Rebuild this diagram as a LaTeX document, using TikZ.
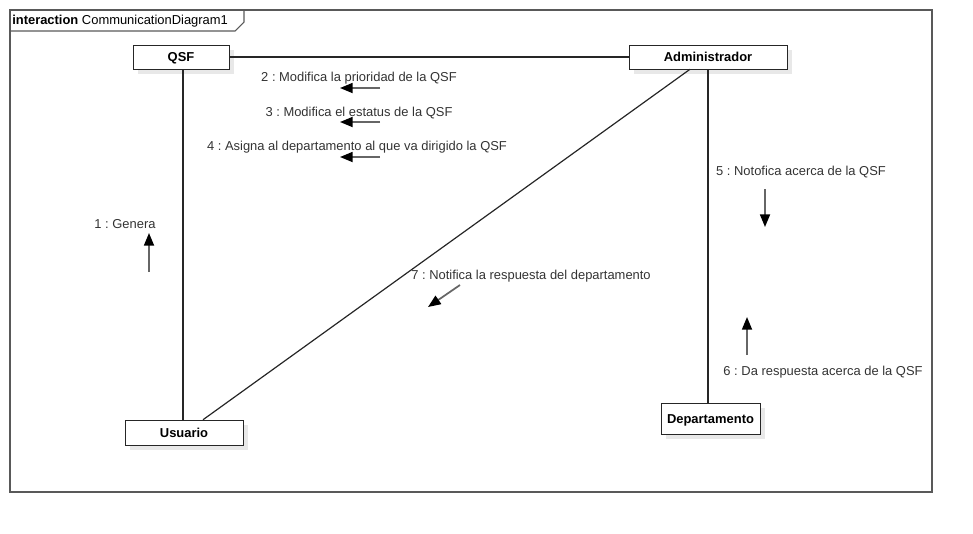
\documentclass[tikz,border=0pt]{standalone}
\usepackage{fontspec}
\setmainfont{Liberation Sans}
\usetikzlibrary{arrows.meta,shadows}

\begin{document}
\frenchspacing
\begin{tikzpicture}[
  x=0.75pt, y=-0.75pt,
  font=\fontsize{9.7}{11}\selectfont,
  obj/.style={draw=black!85, fill=white, font=\fontsize{9.7}{11}\selectfont\bfseries, inner sep=0pt,
    text height=7pt, text depth=0pt,
    general shadow={fill=black!9, shadow xshift=3.5pt, shadow yshift=-3.5pt}},
  link/.style={draw=black!85, line width=0.9pt},
  msg/.style={-{Triangle[length=9.5pt,width=7.5pt,color=black]}, draw=black!60, line width=1.3pt},
  lbl/.style={text=black!80, inner sep=1pt},
]
\useasboundingbox (0,0) rectangle (973,533);

% --- frame with name tab ---------------------------------------------------
\draw[black!65, line width=0.8pt] (10,10) rectangle (932,492);
\draw[black!65, line width=0.8pt] (10,31) -- (235,31) -- (244,22) -- (244,10);
\node[anchor=west, inner sep=0pt] (title) at (12,21) {\textbf{interaction} CommunicationDiagram1};

% --- objects ---------------------------------------------------------------
\node[obj, minimum width=72pt, minimum height=18pt] (qsf) at (181,57) {QSF};
\node[obj, minimum width=118.5pt, minimum height=18pt] (admin) at (708,57) {Administrador};
\node[obj, minimum width=88.5pt, minimum height=18.75pt] (usuario) at (184,432.5) {Usuario};
\node[obj, minimum width=74.25pt, minimum height=23.25pt] (depto) at (710.5,418.5) {Departamento};

% --- links -----------------------------------------------------------------
\draw[link] (qsf.east) -- (admin.west);
\draw[link] ([xshift=1.5pt]qsf.south) -- ([xshift=1.5pt]qsf.south |- usuario.north);
\draw[link] ([xshift=-13.5pt]admin.south) -- ([xshift=14.25pt]usuario.north);
\draw[link] (admin.south) -- (admin.south |- depto.north);

% --- messages --------------------------------------------------------------
\node[lbl] (m1) at (125,224) {1 : Genera};
\node[lbl] (m2) at (359,78) {2 : Modifica la prioridad de la QSF};
\node[lbl] (m3) at (359,113) {3 : Modifica el estatus de la QSF};
\node[lbl] (m4) at (357,147) {4 : Asigna al departamento al que va dirigido la QSF};
\node[lbl] (m5) at (801,172) {5 : Notofica acerca de la QSF};
\node[lbl] (m6) at (823,372) {6 : Da respuesta acerca de la QSF};
\node[lbl] (m7) at (531,276) {7 : Notifica la respuesta del departamento};

\coordinate (a1) at (149,272);
\coordinate (a2) at (380,88);
\coordinate (a3) at (380,122);
\coordinate (a4) at (380,157);
\coordinate (a5) at (765,189);
\coordinate (a6) at (747,355);
\coordinate (a7) at (460,285);

\draw[msg] (a1) -- ++(0,-39);
\draw[msg] (a2) -- ++(-40,0);
\draw[msg] (a3) -- ++(-40,0);
\draw[msg] (a4) -- ++(-40,0);
\draw[msg] (a5) -- ++(0,38);
\draw[msg] (a6) -- ++(0,-38);
\draw[msg] (a7) -- ++(-32,22);
\end{tikzpicture}
\end{document}
